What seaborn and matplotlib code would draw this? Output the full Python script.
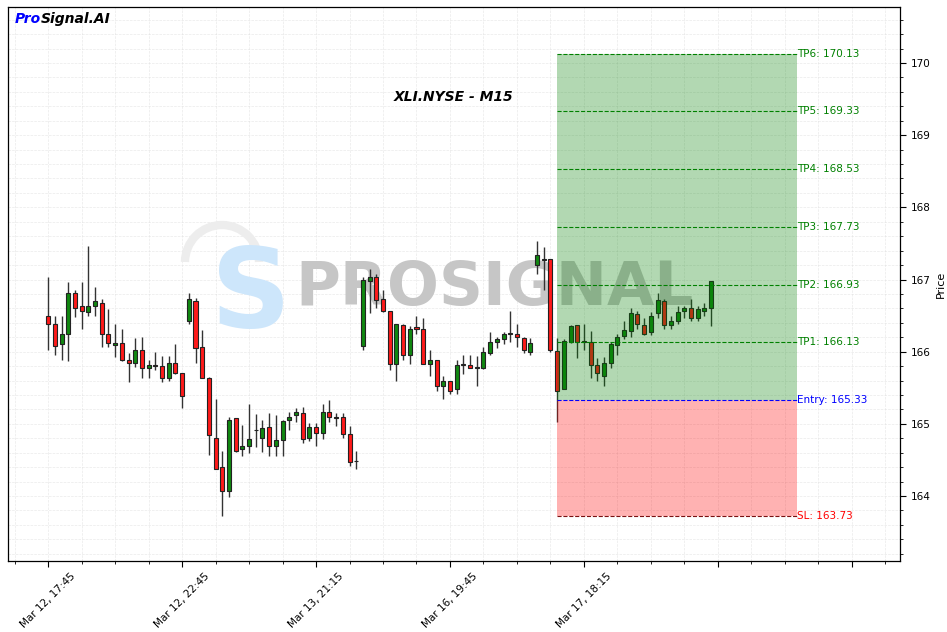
import numpy as np
import pandas as pd
import matplotlib
matplotlib.use("Agg")
import matplotlib.pyplot as plt
import seaborn as sns
from matplotlib.patches import Rectangle, Arc
from matplotlib.ticker import MultipleLocator, FixedLocator

# ---------------- data ----------------
opens = [166.50, 166.38, 166.10, 166.25, 166.82, 166.63, 166.55, 166.64, 166.68, 166.25,
         166.09, 166.12, 165.89, 165.85, 166.03, 165.77, 165.81, 165.80, 165.64, 165.85,
         165.70, 166.43, 166.70, 166.07, 165.64, 164.81, 164.40, 164.07, 165.08, 164.65,
         164.69, 164.91, 164.81, 164.95, 164.70, 164.77, 165.05, 165.12, 165.15, 164.80,
         164.95, 164.87, 165.17, 165.10, 165.09, 164.86, 164.48, 166.08, 166.98, 167.04,
         166.73, 166.57, 165.83, 166.37, 165.96, 166.34, 166.31, 165.83, 165.89, 165.52,
         165.59, 165.48, 165.82, 165.82, 165.78, 165.78, 165.98, 166.14, 166.18, 166.25,
         166.25, 166.19, 166.00, 167.20, 167.27, 167.29, 166.01, 165.49, 166.14, 166.37,
         166.15, 166.14, 165.81, 165.67, 165.85, 166.09, 166.22, 166.28, 166.52, 166.37,
         166.27, 166.53, 166.70, 166.37, 166.43, 166.56, 166.60, 166.46, 166.57, 166.60]
highs = [167.03, 166.50, 166.50, 166.97, 166.86, 166.97, 167.47, 166.89, 166.73, 166.59,
         166.39, 166.32, 165.98, 166.19, 166.20, 165.89, 165.99, 165.94, 165.94, 166.10,
         165.70, 166.81, 166.75, 166.30, 165.65, 165.35, 164.63, 165.09, 165.08, 164.99,
         165.27, 165.13, 165.06, 165.15, 165.12, 165.06, 165.17, 165.22, 165.24, 165.01,
         165.01, 165.27, 165.33, 165.15, 165.15, 164.97, 164.62, 167.04, 167.14, 167.07,
         166.86, 166.57, 166.38, 166.38, 166.35, 166.50, 166.46, 166.03, 165.89, 165.66,
         165.59, 165.89, 165.95, 165.96, 165.94, 166.06, 166.27, 166.21, 166.27, 166.56,
         166.39, 166.20, 166.19, 167.54, 167.45, 167.29, 166.19, 166.18, 166.37, 166.37,
         166.39, 166.28, 165.91, 165.92, 166.13, 166.25, 166.42, 166.61, 166.57, 166.46,
         166.55, 166.82, 166.73, 166.50, 166.64, 166.63, 166.73, 166.64, 166.68, 166.98]
lows = [166.03, 165.96, 165.89, 165.87, 166.48, 166.32, 166.50, 166.49, 166.07, 166.06,
        165.92, 165.87, 165.58, 165.79, 165.64, 165.63, 165.75, 165.58, 165.59, 165.69,
        165.22, 166.38, 165.84, 165.64, 164.57, 164.37, 163.73, 163.98, 164.61, 164.56,
        164.60, 164.68, 164.61, 164.56, 164.56, 164.56, 164.91, 165.02, 164.73, 164.76,
        164.70, 164.79, 165.02, 164.97, 164.80, 164.41, 164.37, 166.03, 166.53, 166.60,
        166.55, 165.74, 165.59, 165.89, 165.83, 166.25, 165.83, 165.66, 165.45, 165.34,
        165.42, 165.42, 165.69, 165.77, 165.52, 165.76, 165.96, 166.05, 166.10, 166.13,
        166.07, 165.98, 165.95, 167.07, 166.86, 165.99, 165.03, 165.48, 166.12, 165.91,
        166.02, 165.63, 165.59, 165.53, 165.78, 165.96, 166.17, 166.21, 166.32, 166.23,
        166.23, 166.46, 166.32, 166.32, 166.39, 166.46, 166.43, 166.43, 166.50, 166.35]
closes = [166.38, 166.08, 166.25, 166.81, 166.61, 166.56, 166.64, 166.70, 166.25, 166.12,
          166.12, 165.88, 165.85, 166.03, 165.78, 165.81, 165.80, 165.64, 165.84, 165.71,
          165.38, 166.73, 166.05, 165.64, 164.85, 164.38, 164.07, 165.06, 164.63, 164.70,
          164.79, 164.92, 164.94, 164.70, 164.77, 165.04, 165.10, 165.16, 164.79, 164.95,
          164.88, 165.17, 165.09, 165.08, 164.86, 164.47, 164.49, 166.99, 167.04, 166.71,
          166.56, 165.83, 166.38, 165.95, 166.32, 166.31, 165.83, 165.89, 165.52, 165.59,
          165.46, 165.81, 165.83, 165.78, 165.79, 165.99, 166.14, 166.17, 166.25, 166.26,
          166.20, 166.02, 166.12, 167.34, 167.29, 166.03, 165.46, 166.15, 166.35, 166.14,
          166.14, 165.82, 165.70, 165.85, 166.10, 166.21, 166.30, 166.53, 166.38, 166.25,
          166.50, 166.71, 166.37, 166.43, 166.55, 166.61, 166.46, 166.59, 166.60, 166.98]
tick_labels = ["Mar 12, 17:45", "Mar 12, 22:45", "Mar 13, 21:15", "Mar 16, 19:45",
               "Mar 17, 18:15", "", ""]
take_profits = [166.13, 166.93, 167.73, 168.53, 169.33, 170.13]
entry_price = 165.33
stop_loss = 163.73
entry_index = 76
box_end = 111.8
symbol_title = "XLI.NYSE - M15"

# ---------------- style ----------------
sns.set_style("white")
plt.rcParams['font.family'] = ['DejaVu Sans']
plt.rcParams['text.color'] = 'black'
plt.rcParams['axes.labelcolor'] = 'black'
plt.rcParams['xtick.color'] = 'black'
plt.rcParams['ytick.color'] = 'black'

fig = plt.figure(figsize=(9.47, 6.32), dpi=100)
ax = fig.add_axes([8 / 947, 1 - 561 / 632, 892 / 947, 554 / 632])

df = pd.DataFrame(dict(open=opens, high=highs, low=lows, close=closes))
df["idx"] = np.arange(len(df))
df["up"] = df["close"] >= df["open"]
df["bottom"] = df[["open", "close"]].min(axis=1)
df["height"] = (df["close"] - df["open"]).abs().clip(lower=0.004)
colors = np.where(df["up"], "#118811", "#ff1a1a")

# watermark (behind candles)
fig_tr = fig.transFigure
ax.text(494 / 947, 1 - 289 / 632, "PROSIGNAL", transform=fig_tr, ha="center", va="center",
        fontsize=44, fontweight="heavy", color="#c6c6c6", zorder=1)
ax.text(251 / 947, 1 - 296 / 632, "S", transform=fig_tr, ha="center", va="center",
        fontsize=80, fontweight="heavy", color="#cde6fb", zorder=1)
ax.add_patch(Arc((222 / 947, 1 - 262 / 632), 74 / 947, 74 / 632, theta1=0, theta2=180,
                 transform=fig_tr, color="#ededed", lw=6, zorder=0.9))

# candles
ax.vlines(df["idx"], df["low"], df["high"], color="#333333", lw=1.0, zorder=2)
ax.bar(df["idx"], df["height"], bottom=df["bottom"], width=0.6, color=colors,
       edgecolor="#222222", linewidth=0.8, zorder=3)

# trade boxes
tp_top = max(take_profits)
ax.add_patch(Rectangle((entry_index, entry_price), box_end - entry_index, tp_top - entry_price,
                       facecolor="green", alpha=0.3, lw=0, zorder=4))
ax.add_patch(Rectangle((entry_index, stop_loss), box_end - entry_index, entry_price - stop_loss,
                       facecolor="red", alpha=0.3, lw=0, zorder=4))
for i, tp in enumerate(take_profits):
    ax.hlines(tp, entry_index, box_end, colors="green", linestyles="--", lw=0.8, zorder=5)
    ax.text(box_end, tp, f"TP{i + 1}: {tp:.2f}", color="green", fontsize=7.5,
            ha="left", va="center", zorder=6)
ax.hlines(entry_price, entry_index, box_end, colors="blue", linestyles="--", lw=0.8, zorder=5)
ax.text(box_end, entry_price, f"Entry: {entry_price:.2f}", color="blue", fontsize=7.5,
        ha="left", va="center", zorder=6)
ax.hlines(stop_loss, entry_index, box_end, colors="#7a1010", linestyles="--", lw=0.8, zorder=5)
ax.text(box_end, stop_loss, f"SL: {stop_loss:.2f}", color="red", fontsize=7.5,
        ha="left", va="center", zorder=6)

# texts
ax.text(0.5, 0.8375, symbol_title, transform=ax.transAxes, ha="center", va="center",
        fontsize=10, fontweight="bold", fontstyle="italic", color="black", zorder=7)
t1 = ax.text(0.0075, 0.978, "Pro", transform=ax.transAxes, ha="left", va="center",
             fontsize=10, fontweight="bold", fontstyle="italic", color="blue", zorder=7)
ax.annotate("Signal.AI", xy=(1, 0), xycoords=t1, ha="left", va="bottom",
            fontsize=10, fontweight="bold", fontstyle="italic", color="black", zorder=7)

# axes
ax.set_xlim(-6, 127.2)
ax.set_ylim(163.10, 170.776)
ax.xaxis.set_major_locator(FixedLocator(list(range(0, 121, 20))))
ax.xaxis.set_minor_locator(MultipleLocator(5))
ax.set_xticklabels(tick_labels, rotation=45, fontsize=7.5)
ax.yaxis.tick_right()
ax.yaxis.set_label_position("right")
ax.yaxis.set_major_locator(MultipleLocator(1))
ax.yaxis.set_minor_locator(MultipleLocator(0.2))
ax.tick_params(axis="both", which="major", direction="out", length=4, width=0.8,
               labelsize=7.5, color="black", labelcolor="black",
               bottom=True, right=True, left=False)
ax.tick_params(axis="both", which="minor", direction="out", length=2, width=0.6,
               color="black", bottom=True, right=True, left=False)
ax.set_ylabel("Price", fontsize=8, color="black")
ax.grid(True, which="both", color="#dcdcdc", linestyle="--", linewidth=0.5, alpha=0.6)
ax.set_axisbelow(True)
for s in ax.spines.values():
    s.set_color("black")
    s.set_linewidth(0.9)

fig.savefig("out.png", dpi=100)
